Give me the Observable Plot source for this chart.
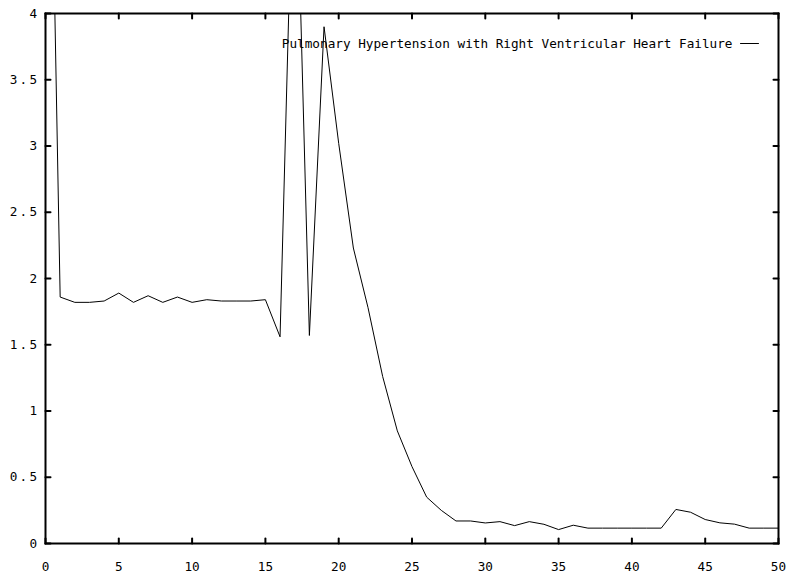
<!DOCTYPE html>
<html>
<head>
<meta charset="utf-8">
<script src="https://cdn.jsdelivr.net/npm/d3@7"></script>
<script src="https://cdn.jsdelivr.net/npm/@observablehq/plot@0.6"></script>
<style>
  html, body { margin: 0; padding: 0; background: #fff; }
  #chart svg { display: block; }
  #chart g[aria-label="y-axis tick label"] text { letter-spacing: 2.3px; }
</style>
</head>
<body>
<div id="chart"></div>
<script>
// ---- data ----
const xValues = [0,1,2,3,4,5,6,7,8,9,10,11,12,13,14,15,16,17,18,19,20,21,22,23,24,25,26,27,28,29,30,31,32,33,34,35,36,37,38,39,40,41,42,43,44,45,46,47,48,49,50];
const yValues = [7.8,1.86,1.82,1.82,1.83,1.89,1.82,1.87,1.82,1.86,1.82,1.84,1.83,1.83,1.83,1.84,1.56,5.7,1.57,3.9,3.02,2.23,1.78,1.26,0.85,0.58,0.35,0.25,0.17,0.17,0.155,0.165,0.135,0.165,0.145,0.105,0.138,0.116,0.116,0.116,0.116,0.116,0.116,0.257,0.236,0.181,0.156,0.146,0.116,0.116,0.116];
const xTicks = [0,5,10,15,20,25,30,35,40,45,50];
const yTicks = [0,0.5,1,1.5,2,2.5,3,3.5,4];
const seriesLabel = "Pulmonary Hypertension with Right Ventricular Heart Failure";

const rows = xValues.map((x, i) => ({x, y: yValues[i]}));
const tickShape = {draw(context, l) { context.moveTo(0, 0); context.lineTo(0, -l); }};
const tickOpts = {length: 5, anchor: "start", shape: tickShape, stroke: "black", strokeWidth: 2};

const chart = Plot.plot({
  width: 788,
  height: 577,
  marginLeft: 45,
  marginRight: 10,
  marginTop: 13,
  marginBottom: 34,
  style: {fontFamily: "'DejaVu Sans Mono', monospace", fontSize: "12.7px", background: "#fff", color: "#000"},
  x: {domain: [0, 50]},
  y: {domain: [0, 4]},
  marks: [
    Plot.axisX(xTicks, {tickSize: 0, tickPadding: 18, tickFormat: d => String(d), label: null}),
    Plot.axisY(yTicks, {tickSize: 0, tickPadding: 6, tickFormat: d => String(d), label: null}),
    Plot.vector(xTicks, {x: d => d, frameAnchor: "bottom", rotate: 0, ...tickOpts}),
    Plot.vector(xTicks, {x: d => d, frameAnchor: "top", rotate: 180, ...tickOpts}),
    Plot.vector(yTicks, {y: d => d, frameAnchor: "left", rotate: 90, ...tickOpts}),
    Plot.vector(yTicks, {y: d => d, frameAnchor: "right", rotate: 270, ...tickOpts}),
    Plot.line(rows, {x: "x", y: "y", stroke: "black", strokeWidth: 1, clip: true}),
    Plot.text([seriesLabel], {text: d => d, frameAnchor: "top-right", dx: -46, dy: 30, textAnchor: "end", lineAnchor: "middle", fill: "black"}),
    Plot.vector([seriesLabel], {frameAnchor: "top-right", dx: -38, dy: 30, rotate: 90, length: 18, anchor: "start", shape: tickShape, stroke: "black", strokeWidth: 1}),
    Plot.frame({stroke: "black", strokeWidth: 2})
  ]
});
document.getElementById("chart").appendChild(chart);
</script>
</body>
</html>
